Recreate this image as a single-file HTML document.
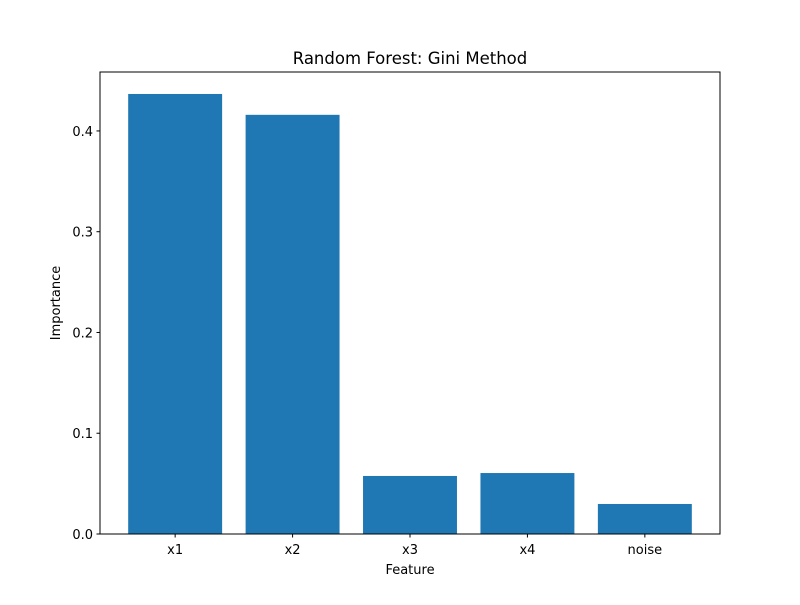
<!DOCTYPE html>
<html><head><meta charset="utf-8"><style>
body{margin:0;background:#fff;}
svg text{font-family:"DejaVu Sans","Liberation Sans",sans-serif;fill:#000;}
</style></head><body>
<svg id="chart" width="800" height="600">
<rect width="800" height="600" fill="#fff"/>
<text x="410" y="64" font-size="16.5" text-anchor="middle">Random Forest: Gini Method</text>
<g id="bars"></g>
<g id="axes"></g>
<rect x="100" y="72" width="620" height="462" fill="none" stroke="#000" stroke-width="1"/>
<text x="410" y="574" font-size="13" text-anchor="middle">Feature</text>
<text x="0" y="0" font-size="13" text-anchor="middle" transform="translate(60,303) rotate(-90)">Importance</text>
</svg>
<script>
const categories = ["x1","x2","x3","x4","noise"];
const importances = [0.4367, 0.416, 0.0576, 0.0605, 0.0298];
const yTicks = [0.0, 0.1, 0.2, 0.3, 0.4];
const yTickLabels = ["0.0","0.1","0.2","0.3","0.4"];

const X0=100, X1=720, Y0=534, Y1=72;
const xMin=-0.64, xMax=4.64, yMin=0, yMax=0.4585;
function xs(v){return X0+(v-xMin)/(xMax-xMin)*(X1-X0);}
function ys(v){return Y0-(v-yMin)/(yMax-yMin)*(Y0-Y1);}
const NS="http://www.w3.org/2000/svg";
const bars=document.getElementById('bars'), axes=document.getElementById('axes');
categories.forEach((c,i)=>{
  const r=document.createElementNS(NS,'rect');
  r.setAttribute('x',xs(i-0.4)); r.setAttribute('width',xs(i+0.4)-xs(i-0.4));
  r.setAttribute('y',ys(importances[i])); r.setAttribute('height',ys(0)-ys(importances[i]));
  r.setAttribute('fill','#1f77b4');
  
  
  bars.appendChild(r);
  const t=document.createElementNS(NS,'line');
  t.setAttribute('x1',xs(i));t.setAttribute('x2',xs(i));t.setAttribute('y1',Y0);t.setAttribute('y2',Y0+3.5);t.setAttribute('stroke','#000');
  
  
  axes.appendChild(t);
  const l=document.createElementNS(NS,'text');
  l.setAttribute('x',xs(i));l.setAttribute('y',Y0+20);l.setAttribute('font-size','13');l.setAttribute('text-anchor','middle');l.textContent=c;
  
  
  axes.appendChild(l);
});
yTicks.forEach((v,i)=>{
  const t=document.createElementNS(NS,'line');
  t.setAttribute('x1',X0-3.5);t.setAttribute('x2',X0);t.setAttribute('y1',ys(v));t.setAttribute('y2',ys(v));t.setAttribute('stroke','#000');
  
  
  axes.appendChild(t);
  const l=document.createElementNS(NS,'text');
  l.setAttribute('x',X0-7);l.setAttribute('y',ys(v)+5);l.setAttribute('font-size','13');l.setAttribute('text-anchor','end');l.textContent=yTickLabels[i];
  
  
  axes.appendChild(l);
});
</script>
</body></html>
